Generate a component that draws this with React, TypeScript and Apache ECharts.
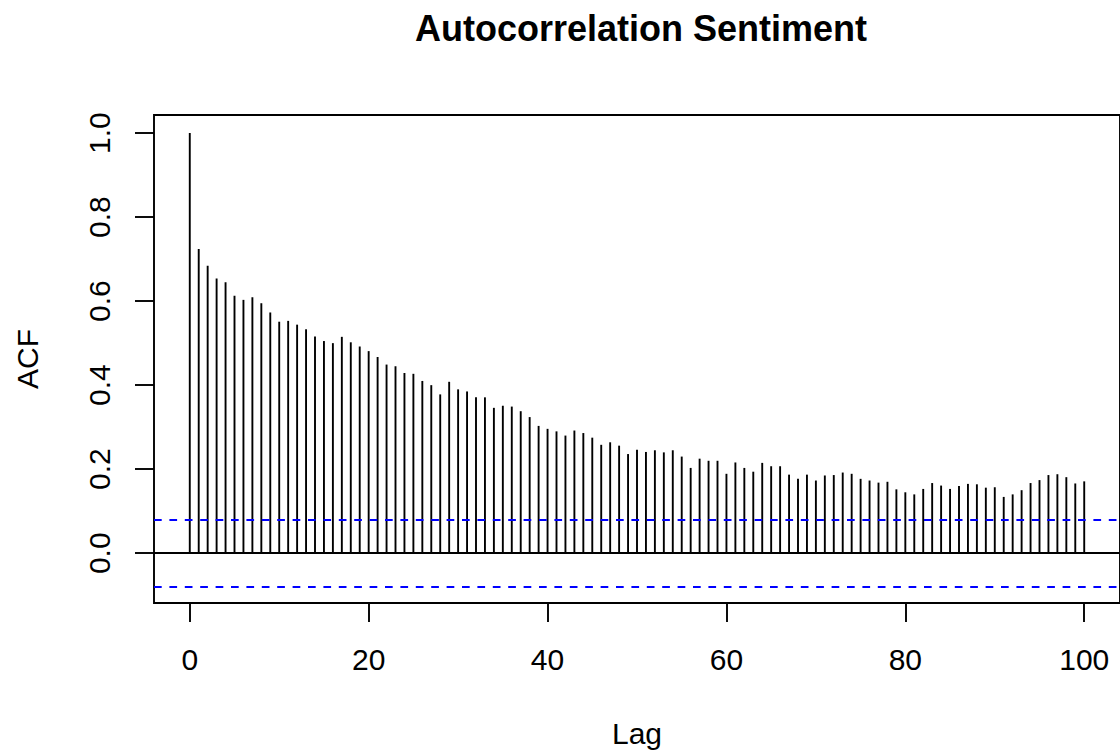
import React, { useEffect, useRef } from "react";
import * as echarts from "echarts";

// Sample autocorrelation of the sentiment series, lags 0..100
const lags: number[] = Array.from({ length: 101 }, (_, i) => i);
const acfValues: number[] = [
  1.0, 0.724, 0.684, 0.654, 0.645, 0.613, 0.603, 0.609, 0.595, 0.573,
  0.551, 0.553, 0.544, 0.533, 0.516, 0.505, 0.5, 0.515, 0.502, 0.492,
  0.481, 0.467, 0.449, 0.445, 0.429, 0.427, 0.41, 0.4, 0.378, 0.408,
  0.39, 0.385, 0.371, 0.371, 0.346, 0.351, 0.349, 0.338, 0.324, 0.303,
  0.296, 0.29, 0.28, 0.292, 0.286, 0.275, 0.258, 0.264, 0.256, 0.236,
  0.246, 0.241, 0.245, 0.24, 0.245, 0.23, 0.203, 0.225, 0.22, 0.22,
  0.189, 0.216, 0.203, 0.194, 0.215, 0.207, 0.207, 0.187, 0.177, 0.187,
  0.173, 0.185, 0.186, 0.192, 0.189, 0.177, 0.173, 0.168, 0.17, 0.152,
  0.145, 0.14, 0.153, 0.167, 0.161, 0.153, 0.16, 0.165, 0.164, 0.156,
  0.157, 0.134, 0.14, 0.15, 0.167, 0.174, 0.186, 0.188, 0.181, 0.166,
  0.171,
];
// 95% white-noise bound: 1.96 / sqrt(n)
const confBound = 0.0755;

const xTicks: number[] = [0, 20, 40, 60, 80, 100];
const yTicks: number[] = [0, 0.2, 0.4, 0.6, 0.8, 1.0];

// R-style axis ranges: data range padded by 4% on each side
const xMin = -4;
const xMax = 104;
const yLow = -confBound;
const yHigh = 1.0;
const yPad = (yHigh - yLow) * 0.04;

const FONT = "'Liberation Sans', Arial, Helvetica, sans-serif";
const LW = 1.9;

export default function App() {
  const ref = useRef<HTMLDivElement>(null);

  useEffect(() => {
    if (!ref.current) return;
    const chart = echarts.init(ref.current, undefined, { renderer: "svg" });

    chart.setOption({
      animation: false,
      backgroundColor: "#ffffff",
      title: {
        text: "Autocorrelation Sentiment",
        left: 641,
        top: 10,
        padding: 0,
        textAlign: "center",
        textStyle: {
          fontFamily: FONT,
          fontSize: 36,
          fontWeight: "bold",
          color: "#000000",
        },
      },
      grid: {
        left: 154,
        top: 115,
        width: 974,
        height: 493,
        show: true,
        borderColor: "#000000",
        borderWidth: LW,
        backgroundColor: "transparent",
      },
      xAxis: {
        type: "value",
        min: xMin,
        max: xMax,
        name: "Lag",
        nameLocation: "middle",
        nameGap: 115,
        nameTextStyle: { fontFamily: FONT, fontSize: 30, color: "#000000" },
        axisLine: { show: false, onZero: false },
        splitLine: { show: false },
        axisTick: {
          show: true,
          length: 19,
          customValues: xTicks,
          lineStyle: { color: "#000000", width: LW },
        },
        axisLabel: {
          show: true,
          customValues: xTicks,
          margin: 41,
          fontFamily: FONT,
          fontSize: 30,
          color: "#000000",
          formatter: (v: number) => String(Math.round(v)),
        },
      },
      yAxis: {
        type: "value",
        min: yLow - yPad,
        max: yHigh + yPad,
        name: "ACF",
        nameLocation: "middle",
        nameRotate: 90,
        nameGap: 112,
        nameTextStyle: { fontFamily: FONT, fontSize: 30, color: "#000000" },
        axisLine: { show: false, onZero: false },
        splitLine: { show: false },
        axisTick: {
          show: true,
          length: 19,
          customValues: yTicks,
          lineStyle: { color: "#000000", width: LW },
        },
        axisLabel: {
          show: true,
          customValues: yTicks,
          rotate: 90,
          margin: 40,
          fontFamily: FONT,
          fontSize: 30,
          color: "#000000",
          formatter: (v: number) => v.toFixed(1),
        },
      },
      series: [
        {
          type: "bar",
          name: "ACF",
          silent: true,
          barWidth: LW,
          itemStyle: { color: "#000000" },
          emphasis: { disabled: true },
          data: lags.map((lag, i) => [lag, acfValues[i]]),
          markLine: {
            silent: true,
            symbol: "none",
            label: { show: false },
            emphasis: { disabled: true },
            data: [
              { yAxis: 0, lineStyle: { color: "#000000", width: LW, type: "solid" } },
              { yAxis: confBound, lineStyle: { color: "#0000ff", width: LW, type: [7.7, 7.7] } },
              { yAxis: -confBound, lineStyle: { color: "#0000ff", width: LW, type: [7.7, 7.7] } },
            ],
          },
        },
      ],
    });

    return () => chart.dispose();
  }, []);

  return (
    <div
      ref={ref}
      style={{ position: "absolute", left: 0, top: 0, width: 1120, height: 753, background: "#fff" }}
    />
  );
}
